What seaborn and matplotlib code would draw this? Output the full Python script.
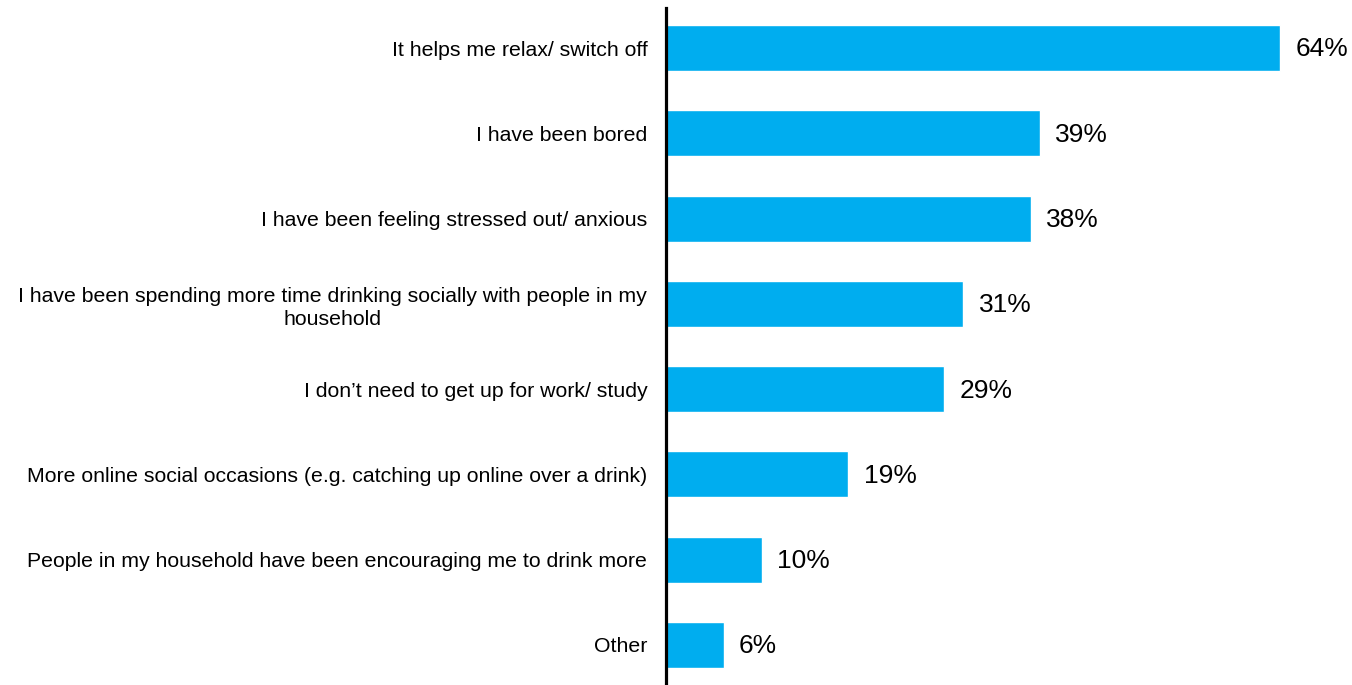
import matplotlib
matplotlib.use("Agg")
import matplotlib.pyplot as plt
import seaborn as sns
import pandas as pd

categories = [
    "It helps me relax/ switch off",
    "I have been bored",
    "I have been feeling stressed out/ anxious",
    "I have been spending more time drinking socially with people in my\nhousehold",
    "I don\u2019t need to get up for work/ study",
    "More online social occasions (e.g. catching up online over a drink)",
    "People in my household have been encouraging me to drink more",
    "Other",
]
values = [64, 39, 38, 31, 29, 19, 10, 6]
value_labels = ["64%", "39%", "38%", "31%", "29%", "19%", "10%", "6%"]

sns.set_theme(style="white")
plt.rcParams["font.family"] = ["Liberation Sans", "DejaVu Sans"]

df = pd.DataFrame({"cat": categories, "val": values})

fig = plt.figure(figsize=(13.52, 6.85), dpi=100)
ax = fig.add_axes([666 / 1352, 0, 1 - 666 / 1352, 677 / 685])
sns.barplot(data=df, x="val", y="cat", orient="h", color="#00ADEF",
            saturation=1, width=0.54, ax=ax)

ax.set_xlim(0, (1352 - 666) / 9.594)
ax.set_ylim(7.47, -0.47)
ax.set_xlabel("")
ax.set_ylabel("")
ax.set_xticks([])
for s in ["top", "right", "bottom"]:
    ax.spines[s].set_visible(False)
ax.spines["left"].set_color("black")
ax.spines["left"].set_linewidth(2.3)
ax.tick_params(axis="y", length=0, pad=13.5, labelsize=15.3, colors="black")
for lbl in ax.get_yticklabels():
    lbl.set_multialignment("center")
    lbl.set_linespacing(1.25)

for i, (v, t) in enumerate(zip(values, value_labels)):
    ax.annotate(t, xy=(v, i), xytext=(11, -1), textcoords="offset points",
                va="center", ha="left", fontsize=19, color="black")

fig.savefig("out.png", dpi=100)
